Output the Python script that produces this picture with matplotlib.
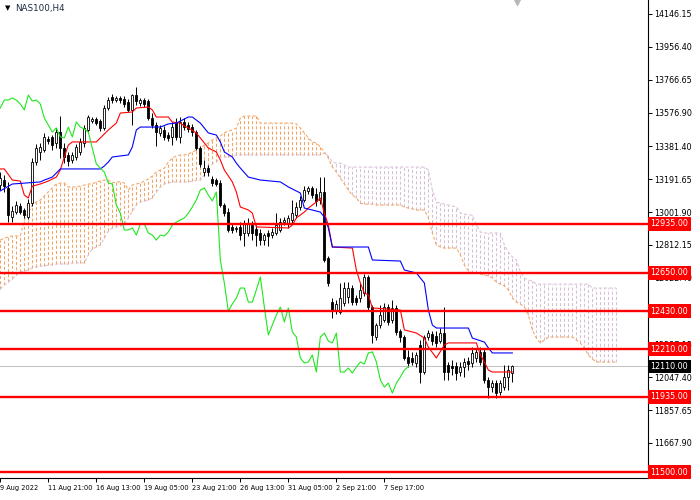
import numpy as np
import matplotlib
matplotlib.use("Agg")
import matplotlib.pyplot as plt
import matplotlib.transforms as mtransforms


# H4 candles, one row per bar
opens = [13158, 13187, 13141, 12973, 13002, 13037, 13014, 12973, 13054, 13291,
         13349, 13360, 13424, 13436, 13401, 13464, 13372, 13332, 13303, 13320,
         13349, 13401, 13476, 13528, 13540, 13528, 13488, 13603, 13667, 13649,
         13661, 13655, 13638, 13592, 13678, 13632, 13649, 13643, 13545, 13505,
         13459, 13476, 13447, 13436, 13522, 13436, 13522, 13505, 13493, 13464,
         13372, 13233, 13256, 13193, 13187, 13170, 13043, 13002, 12915, 12904,
         12915, 12881, 12881, 12927, 12904, 12881, 12840, 12881, 12869, 12881,
         12898, 12944, 12939, 12956, 12985, 13031, 13072, 13124, 13141, 13106,
         13072, 13118, 12736, 12482, 12430, 12424, 12476, 12511, 12563, 12505,
         12505, 12534, 12627, 12453, 12280, 12350, 12378, 12453, 12378, 12448,
         12315, 12280, 12165, 12159, 12130, 12234, 12078, 12280, 12298, 12286,
         12257, 12303, 12118, 12113, 12113, 12078, 12107, 12141, 12130, 12159,
         12194, 12194, 12032, 11991, 12014, 11962, 11991, 12049, 12072]
highs = [13233, 13216, 13176, 13037, 13066, 13054, 13025, 13077, 13314, 13395,
         13401, 13459, 13441, 13447, 13488, 13557, 13401, 13349, 13349, 13395,
         13430, 13505, 13563, 13551, 13551, 13540, 13620, 13667, 13684, 13672,
         13672, 13672, 13655, 13684, 13724, 13661, 13661, 13655, 13574, 13522,
         13505, 13499, 13464, 13522, 13545, 13551, 13545, 13522, 13511, 13476,
         13384, 13303, 13274, 13210, 13199, 13187, 13054, 13025, 12933, 12921,
         12944, 12956, 12968, 12950, 12927, 12904, 12881, 12898, 12910, 12996,
         12968, 12973, 12985, 13072, 13060, 13095, 13152, 13152, 13152, 13141,
         13204, 13204, 12748, 12505, 12494, 12592, 12598, 12598, 12580, 12523,
         12592, 12644, 12638, 12465, 12361, 12465, 12476, 12471, 12494, 12465,
         12326, 12292, 12205, 12194, 12194, 12263, 12292, 12321, 12315, 12315,
         12332, 12453, 12136, 12147, 12136, 12136, 12159, 12165, 12222, 12217,
         12222, 12217, 12049, 12032, 12032, 12032, 12118, 12118, 12118]
lows = [13129, 13118, 12944, 12944, 12991, 12991, 12968, 12962, 13037, 13274,
        13303, 13349, 13395, 13360, 13372, 13314, 13285, 13268, 13285, 13303,
        13332, 13378, 13459, 13516, 13505, 13470, 13476, 13592, 13632, 13638,
        13632, 13609, 13580, 13505, 13620, 13615, 13609, 13534, 13488, 13384,
        13441, 13418, 13412, 13389, 13418, 13401, 13476, 13464, 13441, 13360,
        13262, 13210, 13210, 13152, 13152, 13031, 12979, 12887, 12881, 12887,
        12840, 12806, 12864, 12840, 12806, 12812, 12812, 12806, 12852, 12869,
        12887, 12927, 12910, 12939, 12968, 13014, 13060, 13106, 13083, 13037,
        13049, 12713, 12575, 12390, 12413, 12413, 12459, 12476, 12465, 12465,
        12482, 12517, 12436, 12246, 12263, 12332, 12367, 12350, 12361, 12292,
        12251, 12147, 12107, 12118, 12107, 12014, 12066, 12263, 12234, 12222,
        12246, 12032, 12032, 12061, 12032, 12055, 12049, 12089, 12107, 12136,
        12118, 12014, 11928, 11962, 11928, 11945, 11974, 11974, 12020]
closes = [13199, 13152, 12985, 13008, 13043, 13002, 12985, 13054, 13291, 13372,
          13378, 13436, 13412, 13389, 13464, 13372, 13320, 13297, 13332, 13378,
          13407, 13488, 13551, 13540, 13516, 13488, 13603, 13649, 13649, 13661,
          13649, 13626, 13592, 13678, 13643, 13649, 13626, 13545, 13505, 13464,
          13488, 13436, 13430, 13493, 13436, 13522, 13493, 13482, 13464, 13372,
          13280, 13256, 13233, 13170, 13164, 13043, 12996, 12898, 12898, 12910,
          12869, 12933, 12933, 12881, 12869, 12840, 12869, 12864, 12887, 12927,
          12944, 12956, 12968, 12996, 13031, 13072, 13129, 13141, 13100, 13066,
          13118, 12725, 12592, 12430, 12471, 12505, 12563, 12563, 12482, 12482,
          12552, 12627, 12453, 12292, 12350, 12407, 12453, 12367, 12448, 12309,
          12280, 12159, 12130, 12136, 12176, 12078, 12280, 12303, 12257, 12246,
          12303, 12078, 12078, 12101, 12072, 12107, 12136, 12124, 12188, 12194,
          12136, 12032, 11991, 12014, 11956, 12014, 12049, 12089, 12110]

# Ichimoku lines, read at their corners
tenkan_bars = [0, 1, 3, 5, 6, 7, 8, 10, 12, 14, 15, 16, 17, 18, 24, 25, 27, 29, 30, 33,
               34, 37, 38, 39, 42, 43, 45, 46, 47, 49, 50, 51, 52, 54, 55, 56, 58, 59, 60, 62,
               63, 64, 72, 73, 74, 76, 77, 79, 80, 81, 82, 83, 88, 89, 90, 91, 92, 93, 100, 101,
               104, 106, 107, 109, 111, 112, 119, 120, 121, 122, 123, 128]
tenkan = [13251, 13251, 13187, 13181, 13100, 13083, 13152, 13164, 13181, 13204,
          13245, 13320, 13389, 13407, 13407, 13430, 13476, 13516, 13574, 13580,
          13603, 13609, 13592, 13551, 13551, 13522, 13516, 13499, 13488, 13459,
          13430, 13401, 13372, 13349, 13303, 13245, 13176, 13118, 13031, 13014,
          12996, 12916, 12910, 12927, 12968, 13002, 13025, 13060, 13083, 12996,
          12927, 12800, 12794, 12667, 12592, 12534, 12523, 12448, 12436, 12321,
          12303, 12274, 12222, 12159, 12234, 12246, 12246, 12176, 12136, 12089,
          12078, 12078]
kijun_bars = [0, 3, 10, 11, 13, 15, 25, 26, 27, 28, 32, 33, 34, 35, 40, 42, 44, 47, 48, 50,
              52, 54, 55, 56, 58, 59, 60, 62, 65, 70, 72, 75, 76, 80, 81, 82, 83, 92, 93, 100,
              101, 104, 106, 107, 108, 109, 117, 118, 121, 122, 123, 128]
kijun = [13124, 13164, 13176, 13187, 13204, 13251, 13251, 13268, 13291, 13320,
         13332, 13378, 13476, 13493, 13493, 13511, 13516, 13551, 13551, 13516,
         13459, 13447, 13407, 13349, 13320, 13285, 13256, 13204, 13187, 13176,
         13147, 13112, 13025, 13002, 12973, 12910, 12800, 12800, 12725, 12719,
         12667, 12650, 12592, 12436, 12349, 12332, 12332, 12274, 12251, 12217,
         12188, 12188]

# cloud, one value per bar (runs 26 bars past the last candle)
span_a = [12840, 12852, 12858, 12864, 12864, 12864, 12956, 12996, 13043, 13060,
          13072, 13095, 13118, 13141, 13164, 13170, 13170, 13147, 13147, 13147,
          13152, 13158, 13164, 13164, 13176, 13181, 13187, 13187, 13170, 13176,
          13176, 13170, 13129, 13158, 13164, 13170, 13181, 13193, 13210, 13233,
          13245, 13256, 13291, 13314, 13326, 13332, 13332, 13337, 13349, 13360,
          13372, 13389, 13401, 13418, 13430, 13441, 13459, 13470, 13476, 13488,
          13545, 13557, 13557, 13557, 13557, 13516, 13516, 13516, 13516, 13516,
          13516, 13516, 13516, 13516, 13511, 13488, 13459, 13430, 13407, 13401,
          13378, 13349, 13314, 13262, 13233, 13199, 13164, 13129, 13100, 13083,
          13054, 13048, 13048, 13048, 13043, 13043, 13043, 13043, 13043, 13043,
          13043, 13031, 13025, 13020, 13014, 13014, 13014, 12968, 12881, 12812,
          12800, 12794, 12794, 12794, 12794, 12754, 12696, 12661, 12650, 12650,
          12644, 12638, 12633, 12621, 12598, 12586, 12575, 12552, 12505, 12482,
          12471, 12453, 12407, 12321, 12274, 12245, 12263, 12280, 12280, 12280,
          12280, 12280, 12280, 12280, 12263, 12245, 12217, 12176, 12153, 12136,
          12136, 12136, 12136, 12136, 12136]
span_b = [12557, 12581, 12598, 12615, 12638, 12656, 12661, 12667, 12679, 12685,
          12690, 12690, 12696, 12696, 12702, 12702, 12702, 12702, 12708, 12708,
          12708, 12708, 12754, 12789, 12800, 12812, 12852, 12892, 12910, 12916,
          12921, 12933, 12968, 13008, 13043, 13060, 13066, 13072, 13083, 13118,
          13147, 13164, 13170, 13176, 13176, 13176, 13176, 13176, 13181, 13187,
          13187, 13216, 13268, 13280, 13291, 13320, 13320, 13320, 13326, 13332,
          13332, 13332, 13332, 13332, 13332, 13332, 13332, 13332, 13332, 13332,
          13332, 13332, 13332, 13332, 13332, 13332, 13332, 13332, 13332, 13332,
          13332, 13343, 13326, 13291, 13285, 13285, 13274, 13262, 13262, 13262,
          13262, 13262, 13262, 13262, 13262, 13262, 13262, 13262, 13262, 13262,
          13262, 13262, 13262, 13262, 13262, 13262, 13262, 13245, 13129, 13060,
          13054, 13048, 13043, 13037, 13031, 12996, 12991, 12985, 12985, 12927,
          12887, 12881, 12881, 12881, 12881, 12881, 12812, 12771, 12742, 12725,
          12656, 12621, 12609, 12604, 12586, 12586, 12586, 12586, 12586, 12586,
          12586, 12586, 12586, 12586, 12586, 12586, 12586, 12586, 12563, 12563,
          12563, 12563, 12563, 12563, 12563]

levels = [12935, 12650, 12430, 12210, 11935, 11500]
last_price = 12110

ytick_vals = [14146.15, 13956.40, 13766.65, 13576.90, 13381.40, 13191.65, 13001.90,
              12812.15, 12622.40, 12432.65, 12237.15, 12047.40, 11857.65, 11667.90, 11478.15]
# 12432.65 sits fully under the 12430 tag on the original scale
hidden_ticks = [12432.65]
xtick_bars = [0, 12, 24, 36, 48, 60, 72, 84, 96]
xtick_labels = ["9 Aug 2022", "11 Aug 21:00", "16 Aug 13:00", "19 Aug 05:00", "23 Aug 21:00",
                "26 Aug 13:00", "31 Aug 05:00", "2 Sep 21:00", "7 Sep 17:00"]


fig = plt.figure(figsize=(7, 5), dpi=100)
ax = fig.add_axes([0, 22 / 500, 648 / 700, 478 / 500])

# kumo: vertical dotted strokes between the two spans
kb = np.arange(len(span_a))
a = np.array(span_a, float)
b = np.array(span_b, float)
up = a >= b
dash = (0, (3, 2))
ax.vlines(kb[up], b[up], a[up], colors="#f4a460", linestyles=[dash], lw=0.75, zorder=1)
ax.vlines(kb[~up], a[~up], b[~up], colors="#d8bfd8", linestyles=[dash], lw=0.75, zorder=1)
ax.plot(kb, a, color="#f4a460", ls=dash, lw=0.75, zorder=1)
ax.plot(kb, b, color="#d8bfd8", ls=dash, lw=0.75, zorder=1)

ax.axhline(last_price, color="#c0c0c0", lw=0.7, zorder=1.5)

# candles
o = np.array(opens, float)
h = np.array(highs, float)
l = np.array(lows, float)
c = np.array(closes, float)
x = np.arange(len(c))
bull = c >= o
ax.vlines(x, l, h, colors="black", lw=0.7, zorder=3)
ax.bar(x[bull], np.maximum(c[bull] - o[bull], 1), bottom=o[bull], width=0.55,
       color="white", edgecolor="black", linewidth=0.6, zorder=4)
ax.bar(x[~bull], np.maximum(o[~bull] - c[~bull], 1), bottom=c[~bull], width=0.55,
       color="black", edgecolor="black", linewidth=0.6, zorder=4)

# tenkan / kijun / chikou (close drawn 26 bars back)
ax.plot(tenkan_bars, tenkan, color="red", lw=0.8, zorder=5)
ax.plot(kijun_bars, kijun, color="blue", lw=0.8, zorder=5)
ax.plot(x[:len(c) - 26], c[26:], color="#1ee81e", lw=0.8, zorder=5)

for lv in levels:
    ax.axhline(lv, color="red", lw=1.7, zorder=6)

ax.set_xlim(-0.075, 161.9)
ax.set_ylim(11465.6, 14227.0)

for s in ["top", "left"]:
    ax.spines[s].set_visible(False)
for s in ["right", "bottom"]:
    ax.spines[s].set_linewidth(0.8)

ax.yaxis.tick_right()
ax.set_yticks(ytick_vals)
ax.set_yticklabels(["" if v in hidden_ticks else f"{v:.2f}" for v in ytick_vals])
ax.tick_params(axis="y", direction="out", length=3, width=0.7, labelsize=5.8, pad=1.5)
ax.set_xticks(xtick_bars)
ax.set_xticklabels(xtick_labels, ha="left")
ax.tick_params(axis="x", direction="out", length=3, width=0.7, labelsize=4.8, pad=2)

# price tags on the scale
trans = mtransforms.blended_transform_factory(ax.transAxes, ax.transData)
for lv in levels:
    ax.text(1.004, lv, f"{lv:.2f}", transform=trans, ha="left", va="center",
            fontsize=5.8, color="white", zorder=10, clip_on=False,
            bbox=dict(boxstyle="square,pad=0.3", fc="red", ec="none"))
ax.text(1.004, last_price, f"{last_price:.2f}", transform=trans, ha="left", va="center",
        fontsize=5.8, color="white", zorder=10, clip_on=False,
        bbox=dict(boxstyle="square,pad=0.3", fc="black", ec="none"))

# chart shift marker
ax.plot([129.2], [14227.0], marker="v", ms=7, color="#b8b8b8", clip_on=False, zorder=7)

fig.text(5 / 700, 1 - 8 / 500, "\u25bc", fontsize=5, va="center", color="black")
fig.text(15 / 700, 1 - 8 / 500, "NAS100,H4", fontsize=6.3, va="center", color="#1c2c40")

fig.savefig("out.png", dpi=100)
